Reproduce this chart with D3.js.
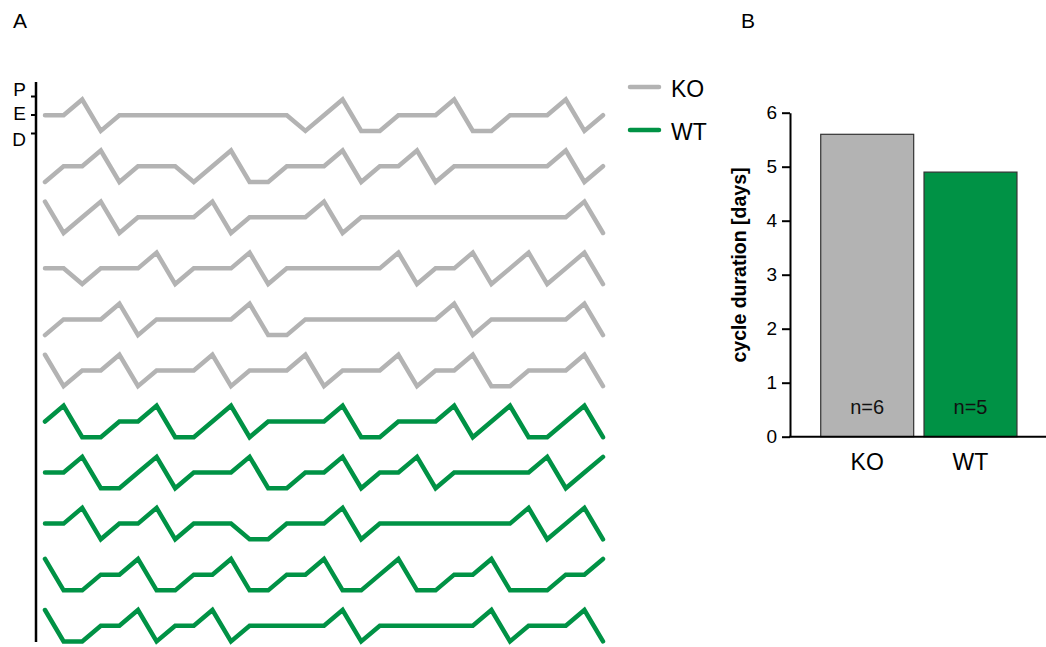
<!DOCTYPE html>
<html>
<head>
<meta charset="utf-8">
<script src="https://cdn.jsdelivr.net/npm/d3@7"></script>
<style>
  html, body { margin: 0; padding: 0; background: #fff; }
  svg { display: block; font-family: "Liberation Sans", Arial, sans-serif; }
</style>
</head>
<body>
<svg id="chart" width="1046" height="647"></svg>
<script>
// Estrous stage per day (P = proestrus, E = estrus, D = diestrus), 31 days per animal
const stages = ["P", "E", "D"];
const koTraces = [
  "EEPDEEEEEEEEEEDEPDDEEEPDDEEEPDE",
  "DEEPDEEEDEPDDEEEPDEEPDEEEEEEPDE",
  "PDEPDEEEEPDEEEEPDEEEEEEEEEEEEPD",
  "EEDEEEPDEEEPDEEEEEEPDEEPDEPDEPD",
  "DEEEPDEEEEEPDDEEEEEEEEPDEEEEEPD",
  "PDEEPDEEEPDEEEPDEEEPDEEPDDEEEPD"
];
const wtTraces = [
  "EPDDEEPDDEPDEEEEPDDEEEPDEPDDEPD",
  "EEPDDEPDEEEPDDEEPDEEPDEEEEEPDEP",
  "EEPDEEPDEEEDDEEEPDEEEEEEEEPDEPD",
  "PDDEEPDDEEPDDEEPDDEPDDEEPDDDEEP",
  "PDDEEPDEEPDEEEEEPDEEEEEEPDEEEPD"
];

// Mean cycle duration per genotype
const groups = ["KO", "WT"];
const cycleDays = [5.6, 4.9];
const groupN = ["n=6", "n=5"];
const durationTicks = [0, 1, 2, 3, 4, 5, 6];

const colors = { KO: "#b3b3b3", WT: "#009245" };

const svg = d3.select("#chart");

// ---------- Panel A: daily stage traces ----------
const traces = koTraces.map(s => ({ group: "KO", days: s.split("") }))
  .concat(wtTraces.map(s => ({ group: "WT", days: s.split("") })));

const x = d3.scaleLinear().domain([0, 30]).range([45, 603]);
const row = d3.scaleLinear().domain([0, traces.length - 1]).range([99.5, 610]);
const stageY = d3.scalePoint().domain(stages).range([0, 31.4]);

const line = d3.line()
  .x((d, i) => x(i))
  .y(d => stageY(d));

const gA = svg.append("g");

gA.selectAll("path.trace")
  .data(traces)
  .join("path")
  .attr("class", "trace")
  .attr("transform", (d, i) => `translate(0,${row(i)})`)
  .attr("d", d => line(d.days))
  .attr("fill", "none")
  .attr("stroke", d => colors[d.group])
  .attr("stroke-width", 4.5)
  .attr("stroke-linejoin", "miter")
  .attr("stroke-linecap", "round");

// vertical stage axis
gA.append("line")
  .attr("x1", 36).attr("x2", 36)
  .attr("y1", 82).attr("y2", 642)
  .attr("stroke", "#000").attr("stroke-width", 2.5);

const stageAxisScale = d3.scalePoint().domain(stages).range([96, 133]);
const stageAxis = gA.append("g")
  .attr("transform", "translate(36,0)")
  .call(d3.axisLeft(stageAxisScale).tickSize(5).tickPadding(5));
stageAxis.select(".domain").remove();
stageAxis.selectAll(".tick line").attr("stroke", "#000").attr("stroke-width", 2);
const labelShift = { P: -7, E: -1.5, D: 6 };
stageAxis.selectAll(".tick text")
  .attr("font-size", 19)
  .attr("font-family", "Liberation Sans, Arial, sans-serif")
  .attr("fill", "#000")
  .attr("x", -10)
  .attr("dy", d => (labelShift[d] + 6.6) + "px");

gA.append("text").text("A")
  .attr("x", 13).attr("y", 28)
  .attr("font-size", 21).attr("fill", "#000");

// legend
const legend = svg.append("g");
const legendItems = [{ g: "KO", y: 87 }, { g: "WT", y: 130 }];
legend.selectAll("line")
  .data(legendItems)
  .join("line")
  .attr("x1", 630).attr("x2", 659)
  .attr("y1", d => d.y).attr("y2", d => d.y)
  .attr("stroke", d => colors[d.g])
  .attr("stroke-width", 4.5)
  .attr("stroke-linecap", "round");
legend.selectAll("text")
  .data(legendItems)
  .join("text")
  .text(d => d.g)
  .attr("x", 671)
  .attr("y", d => d.y + 9.5)
  .attr("font-size", 23)
  .attr("fill", "#000");

// ---------- Panel B: cycle duration bars ----------
const xb = d3.scaleBand().domain(groups).range([810.4, 1027.3])
  .paddingInner(0.1).paddingOuter(0.1);
const yb = d3.scaleLinear().domain([0, 6]).range([436.7, 112.7]);

const gB = svg.append("g");

gB.append("text").text("B")
  .attr("x", 741).attr("y", 28)
  .attr("font-size", 21).attr("fill", "#000");

gB.selectAll("rect.bar")
  .data(groups)
  .join("rect")
  .attr("class", "bar")
  .attr("x", d => xb(d))
  .attr("width", xb.bandwidth())
  .attr("y", (d, i) => yb(cycleDays[i]))
  .attr("height", (d, i) => yb(0) - yb(cycleDays[i]))
  .attr("fill", d => colors[d])
  .attr("stroke", "#333")
  .attr("stroke-width", 1.2);

gB.selectAll("text.n")
  .data(groups)
  .join("text")
  .attr("class", "n")
  .text((d, i) => groupN[i])
  .attr("x", d => xb(d) + xb.bandwidth() / 2)
  .attr("y", 414)
  .attr("text-anchor", "middle")
  .attr("font-size", 20)
  .attr("fill", "#111");

const yAxis = gB.append("g")
  .attr("transform", "translate(790,0)")
  .call(d3.axisLeft(yb).tickValues(durationTicks).tickFormat(d3.format("d")).tickSize(8).tickPadding(5).tickSizeOuter(0));
yAxis.select(".domain").attr("stroke", "#000").attr("stroke-width", 2);
yAxis.selectAll(".tick line").attr("stroke", "#000").attr("stroke-width", 2);
yAxis.selectAll(".tick text")
  .attr("font-size", 19)
  .attr("font-family", "Liberation Sans, Arial, sans-serif")
  .attr("fill", "#000");

// baseline
gB.append("line")
  .attr("x1", 789).attr("x2", 1046)
  .attr("y1", yb(0)).attr("y2", yb(0))
  .attr("stroke", "#000").attr("stroke-width", 2);

gB.selectAll("text.cat")
  .data(groups)
  .join("text")
  .attr("class", "cat")
  .text(d => d)
  .attr("x", d => xb(d) + xb.bandwidth() / 2)
  .attr("y", 470)
  .attr("text-anchor", "middle")
  .attr("font-size", 23)
  .attr("fill", "#000");

gB.append("text")
  .text("cycle duration [days]")
  .attr("transform", "translate(746,265) rotate(-90)")
  .attr("text-anchor", "middle")
  .attr("font-size", 19.5)
  .attr("font-weight", "bold")
  .attr("fill", "#000");
</script>
</body>
</html>
